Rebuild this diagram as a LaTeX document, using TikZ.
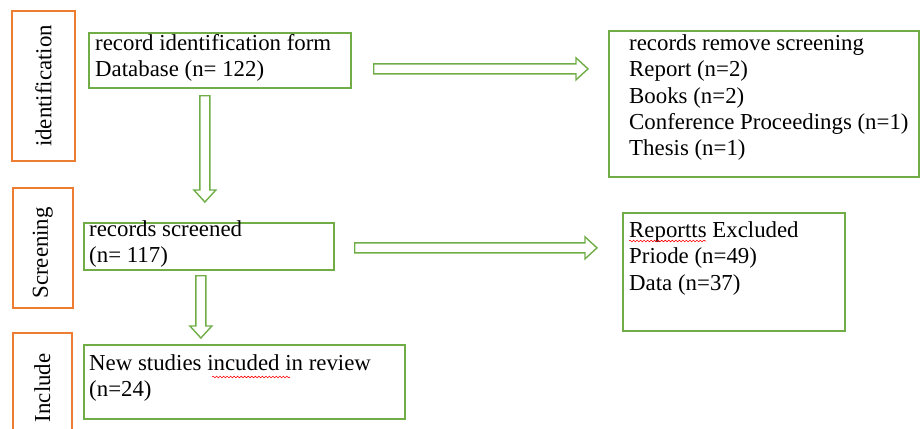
\documentclass[tikz,border=0pt]{standalone}
\usepackage{fontspec}
\setmainfont{Liberation Serif}
\usepackage{tikz}
\usetikzlibrary{calc,positioning,decorations.pathmorphing}
\definecolor{boxgreen}{RGB}{112,173,71}
\definecolor{boxorange}{RGB}{237,125,49}
\def\pxu{0.03cm}
\def\rblock(#1)(#2){\draw[arrowline] ($(#1)+(0,-5)$) -- ($(#2)+(-12,-5)$) -- ($(#2)+(-12,-11)$) -- (#2) -- ($(#2)+(-12,11)$) -- ($(#2)+(-12,5)$) -- ($(#1)+(0,5)$) -- cycle;}
\def\dblock(#1)(#2){\draw[arrowline] ($(#1)+(-5,0)$) -- ($(#2)+(-5,-12)$) -- ($(#2)+(-11,-12)$) -- (#2) -- ($(#2)+(11,-12)$) -- ($(#2)+(5,-12)$) -- ($(#1)+(5,0)$) -- cycle;}

\begin{document}
\begin{tikzpicture}[x=0.03cm, y=-0.03cm,
	gbox/.style={draw=boxgreen, line width=1.5pt, anchor=north west, inner sep=0pt},
	obox/.style={draw=boxorange, line width=1.5pt, anchor=north west, inner sep=0pt},
	txt/.style={anchor=north west, inner sep=0pt, align=left, font=\fontsize{19.5}{22.6}\selectfont},
	sidetxt/.style={rotate=90, inner sep=0pt, font=\fontsize{19.5}{22.6}\selectfont},
	arrowline/.style={draw=boxgreen, line width=1.2pt, line join=miter},
	squiggle/.style={draw=red, line width=0.5pt, decorate, decoration={snake, amplitude=0.7pt, segment length=3pt}}]
			%%%%% START %%%%%
			
			\useasboundingbox (0,0) rectangle (920,429);
			\clip (0,0) rectangle (920,429);
			
			% stage boxes on the left
			\node[obox, minimum width=63*\pxu, minimum height=150*\pxu] (sideid) at (11,10) {};
			\node[obox, minimum width=60*\pxu, minimum height=120*\pxu] (sidescr) at (12,187) {};
			\node[obox, minimum width=59*\pxu, minimum height=110*\pxu] (sideinc) at (12,332) {};
			\node[sidetxt] (idlbl) at (sideid.center) {identification};
			\node[sidetxt] (scrlbl) at ($(sidescr.center)+(0,5)$) {Screening};
			\node[sidetxt] (inclbl) at (sideinc.center) {Include};
			
			% flow boxes
			\node[gbox, minimum width=262*\pxu, minimum height=55*\pxu] (ident) at (88,32) {};
			\node[gbox, minimum width=250*\pxu, minimum height=47*\pxu] (scr) at (83,222) {};
			\node[gbox, minimum width=321*\pxu, minimum height=74*\pxu] (incl) at (83,344) {};
			\node[gbox, minimum width=310*\pxu, minimum height=146*\pxu] (rem) at (608,30) {};
			\node[gbox, minimum width=222*\pxu, minimum height=118*\pxu] (excl) at (622,212) {};
			
			\node[txt] (identtxt) at ($(ident.north west)+(7,2)$) {record identification form\\Database (n= 122)};
			\node[txt] (scrtxt) at ($(scr.north west)+(6,-2)$) {records screened\\(n= 117)};
			\node[txt] (incltxt) at ($(incl.north west)+(6,10)$) {New studies incuded in review\\(n=24)};
			\node[txt] (remtxt) at ($(rem.north west)+(21,4)$) {records remove screening\\Report (n=2)\\Books (n=2)\\Conference Proceedings (n=1)\\Thesis (n=1)};
			\node[txt] (excltxt) at ($(excl.north west)+(7,9)$) {Reportts Excluded\\Priode (n=49)\\Data (n=37)};
			
			% spelling marks
			\draw[squiggle] (212,377) -- (290,377);
			\draw[squiggle] (629,241) -- (706,241);
			
			% hollow arrows
			\coordinate (a1s) at ($(ident.east)+(22,8.5)$);
			\coordinate (a1e) at ($(rem.west)+(-20,-35)$);
			\coordinate (a2s) at ($(scr.east)+(20,1.5)$);
			\coordinate (a2e) at ($(excl.west)+(-25,-24)$);
			\coordinate (v1s) at ($(ident.south)+(-15,7)$);
			\coordinate (v1e) at ($(scr.north)+(-4,-20)$);
			\coordinate (v2s) at ($(scr.south)+(-8,5)$);
			\coordinate (v2e) at ($(incl.north)+(-43.5,-6)$);
			
			\rblock(a1s)(a1e)
			\rblock(a2s)(a2e)
			\dblock(v1s)(v1e)
			\dblock(v2s)(v2e)
			
			%%%%% END %%%%%
		\end{tikzpicture}
\end{document}
